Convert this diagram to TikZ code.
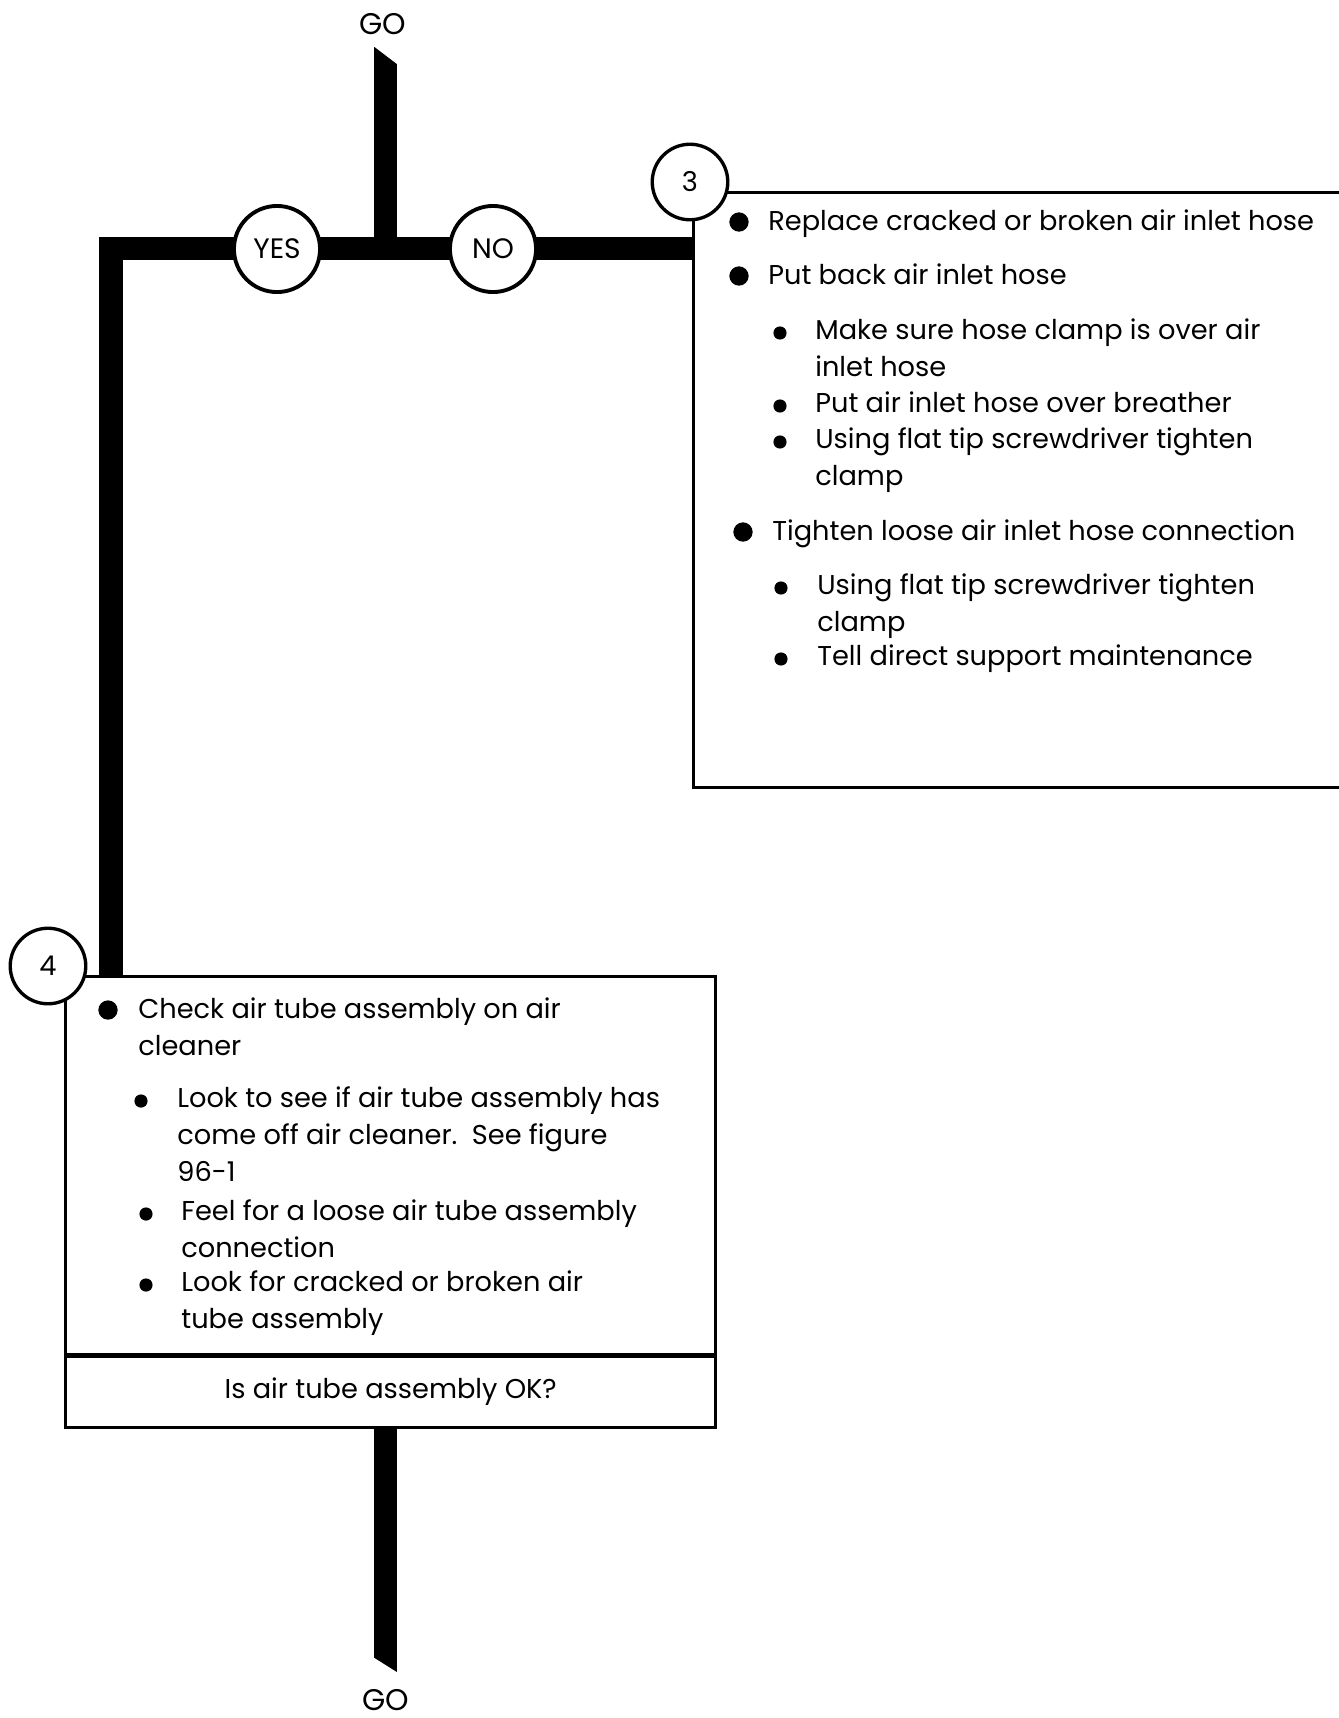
\documentclass[tikz,border=0pt]{standalone}
\usepackage{fontspec}
\setmainfont{Poppins}
\usetikzlibrary{positioning,calc}

\begin{document}
\begin{tikzpicture}[x=0.02cm, y=-0.02cm,
    every node/.style={font=\fontsize{15.5}{21}\selectfont},
    bar/.style={line width=13.6pt, line join=miter},
    golabel/.style={inner sep=1pt, font=\fontsize{17}{19}\selectfont},
    tag/.style={circle, draw, line width=2.2pt, fill=white, minimum size=49pt, inner sep=0pt, font=\fontsize{16}{18}\selectfont},
    num/.style={circle, draw, line width=1.9pt, fill=white, minimum size=43pt, inner sep=0pt, font=\fontsize{15.5}{17}\selectfont},
    panel/.style={draw, line width=1.7pt, inner sep=0pt, anchor=north west},
    bigdot/.style={circle, fill, inner sep=0pt, minimum size=11pt},
    smalldot/.style={circle, fill, inner sep=0pt, minimum size=7.5pt},
    item/.style={anchor=base west, inner sep=0pt, align=left}]
    \useasboundingbox (0,0) rectangle (1339,1718);

    % flow bars
    \node[golabel] (gotop) at (383,24) {GO};
    \node[golabel] (gobot) at (386,1700) {GO};
    \coordinate (topend) at (385.5,47);
    \coordinate (jn) at (385.5,248.5);
    \coordinate (corner) at (111,248.5);
    \coordinate (botend) at (385.5,1673);

    \node[panel, minimum width=378.7pt, minimum height=338.5pt] (step3) at (692,191) {};
    \node[panel, minimum width=370.2pt, minimum height=215.4pt] (step4) at (64,975) {};
    \node[panel, minimum width=370.2pt, minimum height=40.3pt] (ask) at (64,1355) {Is air tube assembly OK?};

    \draw[bar] (topend) -- (jn);
    \draw[bar] (step3.west |- jn) -- (corner) -- (corner |- step4.north);
    \draw[bar] (botend |- ask.south) -- (botend);
    \fill[white] (372,45) -- (399,45) -- (399,65.5) -- cycle;
    \fill[white] (372,1656.5) -- (399,1673.5) -- (372,1673.5) -- cycle;

    \node[tag] (yes) at (277,249) {YES};
    \node[tag] (no) at (493,249) {NO};
    \node[num] (n3) at (690,182) {3};
    \node[num] (n4) at (48,966) {4};

    % step 3 text (multi-line items sit on their last baseline)
    \node[item] (t31) at (768,230) {Replace cracked or broken air inlet hose};
    \node[bigdot] (d31) at (739,222) {};
    \node[item] (t32) at (768,284) {Put back air inlet hose};
    \node[bigdot] (d32) at (739,276) {};
    \node[item] (t33) at (815,376) {Make sure hose clamp is over air\\inlet hose};
    \node[smalldot] (d33) at (780,333) {};
    \node[item] (t34) at (815,412) {Put air inlet hose over breather};
    \node[smalldot] (d34) at (780,406) {};
    \node[item] (t35) at (815,485) {Using flat tip screwdriver tighten\\clamp};
    \node[smalldot] (d35) at (780,442) {};
    \node[item] (t36) at (772,540) {Tighten loose air inlet hose connection};
    \node[bigdot] (d36) at (743,532) {};
    \node[item] (t37) at (817,631) {Using flat tip screwdriver tighten\\clamp};
    \node[smalldot] (d37) at (781,588) {};
    \node[item] (t38) at (817,665) {Tell direct support maintenance};
    \node[smalldot] (d38) at (781,659) {};

    % step 4 text
    \node[item] (t41) at (138,1055) {Check air tube assembly on air\\cleaner};
    \node[bigdot] (d41) at (108,1010) {};
    \node[item] (t42) at (177,1181) {Look to see if air tube assembly has\\come off air cleaner.\ \ See figure\\96-1};
    \node[smalldot] (d42) at (141,1101) {};
    \node[item] (t43) at (181,1257) {Feel for a loose air tube assembly\\connection};
    \node[smalldot] (d43) at (146,1214) {};
    \node[item] (t44) at (181,1328) {Look for cracked or broken air\\tube assembly};
    \node[smalldot] (d44) at (146,1285) {};
\end{tikzpicture}
\end{document}
